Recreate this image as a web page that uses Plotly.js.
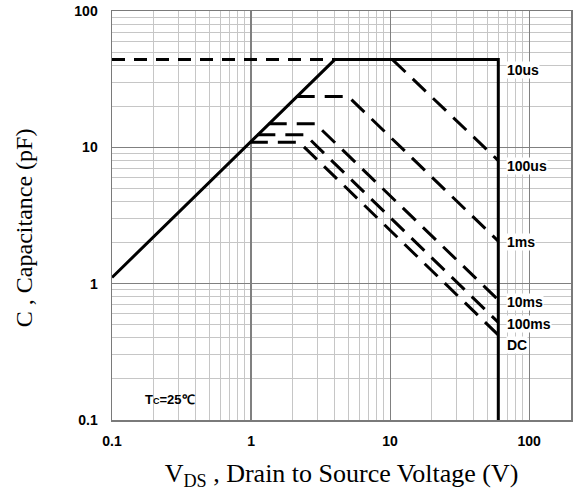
<!DOCTYPE html>
<html><head><meta charset="utf-8">
<script src="https://cdn.plot.ly/plotly-3.0.1.min.js"></script>
<style>html,body{margin:0;padding:0;background:#fff;}</style>
</head><body>
<div id="chart" style="width:585px;height:491px;"></div>
<script>
// Safe operating area boundary (solid)
const limitV = [0.1, 4, 60, 60];
const limitC = [1.11, 44, 44, 0.1];
// 10us extension (short dashes)
const v10us = [0.1, 4];
const c10us = [44, 44];
// pulse-width curves (long dashes)
const v100us = [10.4, 60];
const c100us = [44, 8.0];
const v1ms = [2.13, 5.0, 60];
const c1ms = [23.6, 23.6, 2.05];
const v10ms = [1.34, 2.9, 60];
const c10ms = [14.9, 14.9, 0.76];
const v100ms = [1.11, 2.45, 60];
const c100ms = [12.35, 12.35, 0.52];
const vDC = [0.98, 2.22, 60];
const cDC = [10.9, 10.9, 0.42];

const curveLabels = ['10us', '100us', '1ms', '10ms', '100ms', 'DC'];
const labelEndC = [c10us[1], c100us[1], c1ms[2], c10ms[2], c100ms[2], cDC[2]];
const labelEndV = [limitV[2], v100us[1], v1ms[2], v10ms[2], v100ms[2], vDC[2]];
const labelYShift = [-10, -5, -1, -2, -2, -10];

const xTickVals = [0.1, 1, 10, 100];
const xTickText = ['0.1', '1', '10', '100'];
const yTickVals = [0.1, 1, 10, 100];
const yTickText = ['0.1', '1', '10', '100'];

const minorVals = [];
[0.1, 1, 10, 100].forEach(d => { for (let k = 2; k <= 9; k++) minorVals.push(k * d); });

const tickFont = {family: 'Liberation Sans, Arial, sans-serif', size: 14, color: '#000', weight: 'bold'};
const titleFont = {family: 'Liberation Serif, Times New Roman, serif', size: 26, color: '#000'};

const longDash = '18px,10px';
const traces = [
  {x: limitV, y: limitC, mode: 'lines', line: {color: '#000', width: 3}},
  {x: v10us, y: c10us, mode: 'lines', line: {color: '#000', width: 3, dash: '13px,9px'}},
  {x: v100us, y: c100us, mode: 'lines', line: {color: '#000', width: 3, dash: longDash}},
  {x: v1ms, y: c1ms, mode: 'lines', line: {color: '#000', width: 3, dash: longDash}},
  {x: v10ms, y: c10ms, mode: 'lines', line: {color: '#000', width: 3, dash: longDash}},
  {x: v100ms, y: c100ms, mode: 'lines', line: {color: '#000', width: 3, dash: longDash}},
  {x: vDC, y: cDC, mode: 'lines', line: {color: '#000', width: 3, dash: longDash}}
];

const annotations = curveLabels.map((t, i) => ({
  x: Math.log10(labelEndV[i]), y: Math.log10(labelEndC[i]), xref: 'x', yref: 'y',
  text: t, showarrow: false, xanchor: 'left', yanchor: 'middle',
  xshift: 8, yshift: labelYShift[i], bgcolor: '#fff', borderpad: 0,
  font: {family: 'Liberation Sans, Arial, sans-serif', size: 14, color: '#000', weight: 'bold'}
}));
annotations.push({
  x: 0.068, y: 0.051, xref: 'paper', yref: 'paper', xanchor: 'left', yanchor: 'middle',
  showarrow: false, text: 'T<span style="font-size:9px">C</span>=25℃',
  font: {family: 'Liberation Sans, Arial, sans-serif', size: 13, color: '#000', weight: 'bold'}
});
// y-axis title, placed like the reference (slightly below the plot centre)
annotations.push({
  x: 0, y: 0.469, xref: 'paper', yref: 'paper', xanchor: 'center', yanchor: 'middle',
  xshift: -88, textangle: -90, showarrow: false,
  text: 'C , Capacitance (pF)',
  font: {family: 'Liberation Serif, Times New Roman, serif', size: 24, color: '#000'}
});

const axisCommon = {
  type: 'log', showline: true, mirror: true, linecolor: '#7a7a7a', linewidth: 1.5,
  showgrid: true, gridcolor: '#808080', gridwidth: 1.2, zeroline: false,
  ticks: '', tickmode: 'array', tickfont: tickFont,
  minor: {tickmode: 'array', tickvals: minorVals, showgrid: true, gridcolor: '#c6c6c6', gridwidth: 1, ticks: ''}
};

const layout = {
  width: 585, height: 491,
  margin: {l: 112, r: 14, t: 11, b: 71},
  paper_bgcolor: '#fff', plot_bgcolor: '#fff',
  showlegend: false,
  xaxis: Object.assign({}, axisCommon, {
    range: [-1, Math.log10(200)], tickvals: xTickVals, ticktext: xTickText,
    ticklabelstandoff: 8,
    title: {text: 'V<sub>DS</sub> , Drain to Source Voltage (V)', font: titleFont, standoff: 19}
  }),
  yaxis: Object.assign({}, axisCommon, {
    range: [-1, 2], tickvals: yTickVals, ticktext: yTickText,
    ticklabelstandoff: 10
  }),
  annotations: annotations
};

Plotly.newPlot('chart', traces, layout, {displayModeBar: false, staticPlot: true});
</script>
</body></html>
